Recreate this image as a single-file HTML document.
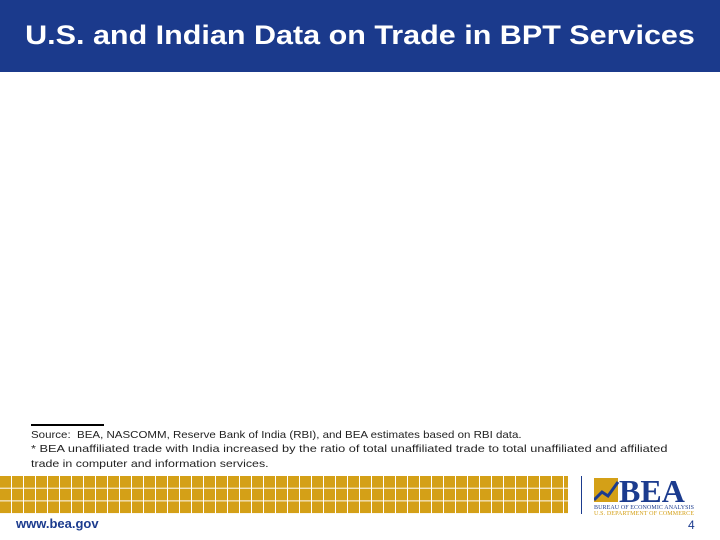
<!DOCTYPE html>
<html><head><meta charset="utf-8"><style>
body{margin:0;width:720px;height:540px;position:relative;background:#fff;font-family:"Liberation Sans",sans-serif;overflow:hidden}
#hdr{position:absolute;left:0;top:0;width:720px;height:72px;background:#1b3a8c}
#title{position:absolute;left:0;width:720px;top:20px;text-align:center;color:#fff;font-size:27px;font-weight:bold;transform:scaleX(1.13);transform-origin:360px 0}
.note{position:absolute;left:31px;font-size:10.5px;color:#222;white-space:nowrap;transform-origin:0 0}
#rule{position:absolute;left:31px;top:424px;width:73px;height:2px;background:#000}
#grid{position:absolute;left:0;top:476px;width:568px;height:38px;background:#d4a017}
#grid2{position:absolute;left:0;top:476px;width:568px;height:38px;
background-image:linear-gradient(to right,transparent 11px,#fff 11px),linear-gradient(to bottom,transparent 11.7px,#fff 11.7px);background-size:12px 100%,100% 12.7px}
#sep{position:absolute;left:581px;top:476px;width:1px;height:38px;background:#1b3b8e}
#logo{position:absolute;left:594px;top:474px;width:104px;height:42px}
#url{position:absolute;left:16px;top:516px;font-size:13px;font-weight:bold;color:#1b3b8e}
#pg{position:absolute;left:688px;top:518px;font-size:12px;color:#1b3b8e}
</style></head><body>
<div id="hdr"><div id="title">U.S. and Indian Data on Trade in BPT Services</div></div>
<div id="rule"></div>
<div class="note" style="top:429px;transform:scaleX(1.096)">Source:&nbsp; BEA, NASCOMM, Reserve Bank of India (RBI), and BEA estimates based on RBI data.</div>
<div class="note" style="top:443px;transform:scaleX(1.216)">* BEA unaffiliated trade with India increased by the ratio of total unaffiliated trade to total unaffiliated and affiliated</div>
<div class="note" style="top:458px;transform:scaleX(1.18)">trade in computer and information services.</div>
<div id="grid"></div>
<div id="grid2"></div>
<div id="sep"></div>
<svg id="logo" viewBox="0 0 104 42">
<rect x="0" y="4" width="24" height="24" fill="#d4a017"/>
<polyline points="0,26 8,18 14,22 24,8" stroke="#1b3b8e" stroke-width="3" fill="none"/>
<text x="25" y="28" font-family="Liberation Serif" font-weight="bold" font-size="32" fill="#1b3b8e">BEA</text>
<text x="0" y="35" font-family="Liberation Serif" font-size="6" fill="#1b3b8e" textLength="100">BUREAU OF ECONOMIC ANALYSIS</text>
<text x="0" y="41" font-family="Liberation Serif" font-size="6" fill="#d4a017" textLength="100">U.S. DEPARTMENT OF COMMERCE</text>
</svg>
<div id="url">www.bea.gov</div>
<div id="pg">4</div>
</body></html>
